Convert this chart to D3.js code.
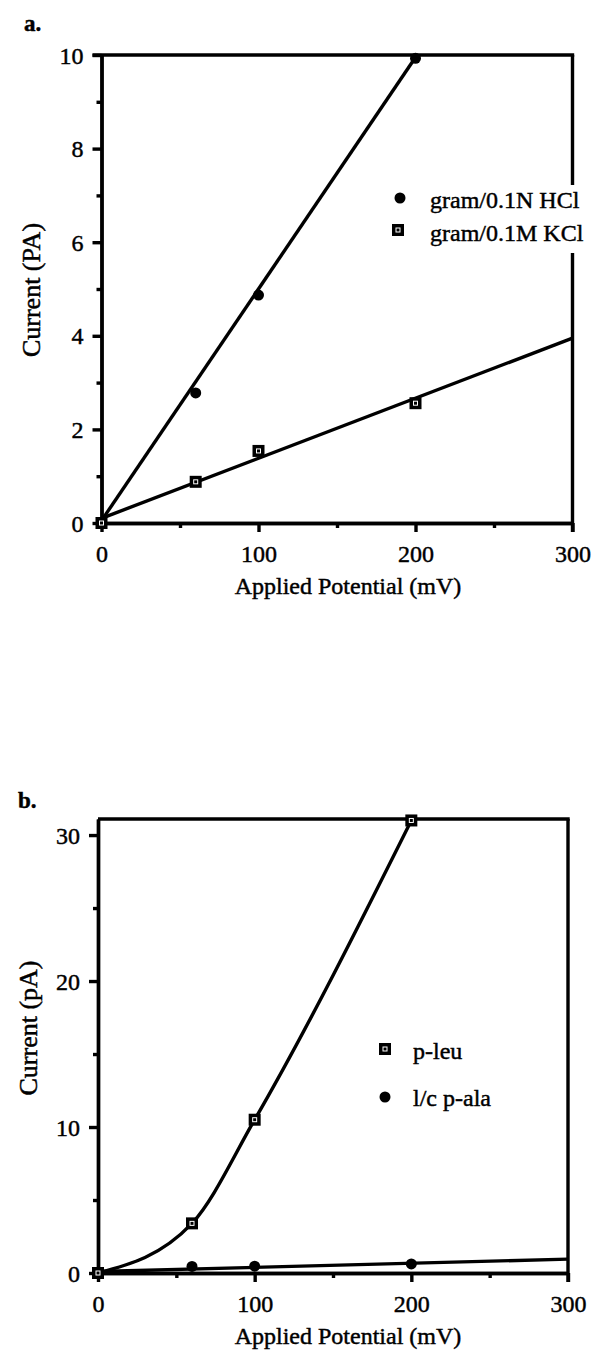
<!DOCTYPE html>
<html>
<head>
<meta charset="utf-8">
<script src="https://cdn.jsdelivr.net/npm/d3@7"></script>
<style>
  html, body { margin: 0; padding: 0; background: #fff; }
  svg { display: block; }
  text { font-family: "Liberation Serif", "Times New Roman", serif; fill: #000; stroke: #000; stroke-width: 0.45px; }
</style>
</head>
<body>
<svg id="fig" width="592" height="1351"></svg>
<script>
// ---- Panel a: gramicidin channels, current vs applied potential ----
const potentialA = [0, 60, 100, 200];
const hclCurrent = [0, 2.78, 4.87, 9.93];
const kclCurrent = [0, 0.88, 1.54, 2.56];
// fitted lines: [potential, current] endpoints
const hclFit = [[0, 0.05], [201, 10]];
const kclFit = [[0, 0.1], [300, 3.95]];
const yTicksA = [0, 2, 4, 6, 8, 10];
const yMinorA = [1, 3, 5, 7, 9];

// ---- Panel b: p-leu and l/c p-ala ----
const potentialB = [0, 60, 100, 200];
const leuCurrent = [0, 3.4, 10.5, 31.0];
const alaCurrent = [0, 0.45, 0.47, 0.62];
const alaFit = [[0, 0.1], [300, 0.95]];
const yTicksB = [0, 10, 20, 30];
const yMinorB = [5, 15, 25];

const xTicks = [0, 100, 200, 300];
const xMinor = [50, 150, 250];

const svg = d3.select("#fig");
const FONT = 24;
const LW = 3.4;

function squareMarker(g, x, y) {
  g.append("rect").attr("x", x - 6).attr("y", y - 6)
    .attr("width", 12).attr("height", 12).attr("fill", "#000");
  g.append("rect").attr("x", x - 2).attr("y", y - 2)
    .attr("width", 4).attr("height", 4)
    .attr("fill", "none").attr("stroke", "#fff").attr("stroke-width", 1);
}
function dotMarker(g, x, y) {
  g.append("circle").attr("cx", x).attr("cy", y).attr("r", 5.5).attr("fill", "#000");
}

function panel(cfg) {
  const g = svg.append("g");
  const x = d3.scaleLinear().domain([0, 300]).range([cfg.left, cfg.right]);
  const y = d3.scaleLinear().domain([0, cfg.yMax]).range([cfg.bottom, cfg.top]);

  // frame: top and right edges (right edge runs past the axis as the 300 tick)
  g.append("line").attr("x1", x(0) - (cfg.topTick ? 9 : 0)).attr("x2", x(300) + 1.7)
    .attr("y1", cfg.top).attr("y2", cfg.top)
    .attr("stroke", "#000").attr("stroke-width", LW);
  g.append("line").attr("x1", x(300)).attr("x2", x(300))
    .attr("y1", cfg.top).attr("y2", cfg.bottom + 9)
    .attr("stroke", "#000").attr("stroke-width", LW);

  // axes
  const xAxis = g.append("g").attr("transform", `translate(0,${cfg.bottom})`)
    .call(d3.axisBottom(x).tickValues(xTicks).tickSize(9).tickSizeOuter(0).tickPadding(13).tickFormat(d3.format("d")));
  const xMinorAxis = g.append("g").attr("transform", `translate(0,${cfg.bottom})`)
    .call(d3.axisBottom(x).tickValues(xMinor).tickSize(5).tickSizeOuter(0).tickFormat(""));
  const yAxis = g.append("g").attr("transform", `translate(${cfg.left},0)`)
    .call(d3.axisLeft(y).tickValues(cfg.yTicks).tickSize(9).tickSizeOuter(0).tickPadding(9).tickFormat(d3.format("d")));
  const yMinorAxis = g.append("g").attr("transform", `translate(${cfg.left},0)`)
    .call(d3.axisLeft(y).tickValues(cfg.yMinor).tickSize(5).tickSizeOuter(0).tickFormat(""));

  [xAxis, xMinorAxis, yAxis, yMinorAxis].forEach(a => {
    a.selectAll("path.domain").attr("stroke", "#000").attr("stroke-width", LW);
    a.selectAll(".tick line").attr("stroke", "#000").attr("stroke-width", LW);
    a.selectAll(".tick text").attr("font-size", FONT)
      .attr("font-family", "Liberation Serif").attr("fill", "#000")
      .attr("stroke", "#000").attr("stroke-width", 0.7);
  });
  xAxis.selectAll(".tick text").attr("dy", "0.71em");
  yAxis.selectAll(".tick text").attr("dy", "0.34em");

  // titles
  g.append("text").attr("x", cfg.xTitleX).attr("y", cfg.bottom + 71)
    .attr("text-anchor", "middle").attr("font-size", FONT).text("Applied Potential (mV)");
  g.append("text").attr("transform", `translate(${cfg.yTitleX},${cfg.yTitleY}) rotate(-90)`)
    .attr("text-anchor", "middle").attr("font-size", 26).text(cfg.yTitle);
  g.append("text").attr("x", cfg.tagX).attr("y", cfg.tagY)
    .attr("font-size", 23).attr("font-weight", "bold").text(cfg.tag);

  return { g, x, y };
}

// ---------------- panel a ----------------
const A = panel({
  left: 101.5, right: 572.5, top: 55, bottom: 523, yMax: 10,
  yTicks: yTicksA, yMinor: yMinorA, topTick: true,
  xTitleX: 348, yTitleX: 40, yTitleY: 290, yTitle: "Current (PA)",
  tag: "a.", tagX: 24, tagY: 31
});
const line = d3.line();
A.g.append("path").datum(hclFit)
  .attr("d", line.x(d => A.x(d[0])).y(d => A.y(d[1])))
  .attr("fill", "none").attr("stroke", "#000").attr("stroke-width", LW);
A.g.append("path").datum(kclFit)
  .attr("d", line.x(d => A.x(d[0])).y(d => A.y(d[1])))
  .attr("fill", "none").attr("stroke", "#000").attr("stroke-width", LW);
potentialA.forEach((p, i) => dotMarker(A.g, A.x(p), A.y(hclCurrent[i])));
potentialA.forEach((p, i) => squareMarker(A.g, A.x(p), A.y(kclCurrent[i])));

// legend a (white box masks the right frame edge)
A.g.append("rect").attr("x", 385).attr("y", 185).attr("width", 207).attr("height", 68).attr("fill", "#fff");
dotMarker(A.g, 400, 198);
A.g.append("text").attr("x", 430).attr("y", 208).attr("font-size", FONT).text("gram/0.1N HCl");
squareMarker(A.g, 398, 230);
A.g.append("text").attr("x", 430).attr("y", 241).attr("font-size", FONT).text("gram/0.1M KCl");

// ---------------- panel b ----------------
const B = panel({
  left: 98, right: 568, top: 819, bottom: 1273, yMax: 31.1,
  yTicks: yTicksB, yMinor: yMinorB, topTick: false,
  xTitleX: 348, yTitleX: 37, yTitleY: 1028, yTitle: "Current (pA)",
  tag: "b.", tagX: 18, tagY: 808
});
B.g.append("path").datum(potentialB.map((p, i) => [p, leuCurrent[i]]))
  .attr("d", d3.line().curve(d3.curveMonotoneX).x(d => B.x(d[0])).y(d => B.y(d[1])))
  .attr("fill", "none").attr("stroke", "#000").attr("stroke-width", LW);
B.g.append("path").datum(alaFit)
  .attr("d", d3.line().x(d => B.x(d[0])).y(d => B.y(d[1])))
  .attr("fill", "none").attr("stroke", "#000").attr("stroke-width", LW);
potentialB.forEach((p, i) => dotMarker(B.g, B.x(p), B.y(alaCurrent[i])));
potentialB.forEach((p, i) => squareMarker(B.g, B.x(p), B.y(leuCurrent[i])));

// legend b
squareMarker(B.g, 385, 1049);
B.g.append("text").attr("x", 413).attr("y", 1059).attr("font-size", FONT).text("p-leu");
dotMarker(B.g, 385, 1097);
B.g.append("text").attr("x", 413).attr("y", 1106).attr("font-size", FONT).text("l/c p-ala");
</script>
</body>
</html>
